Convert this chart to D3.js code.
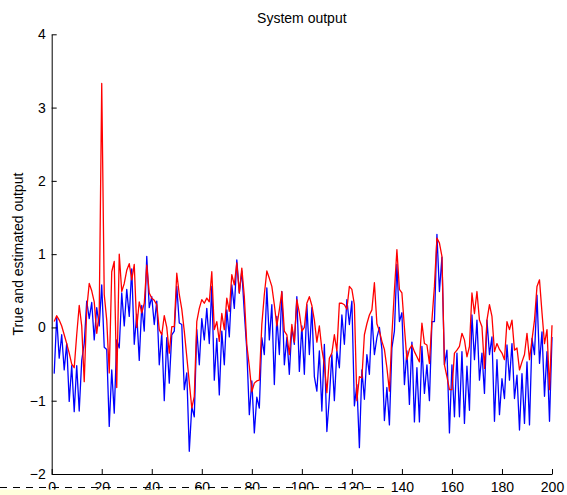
<!DOCTYPE html>
<html>
<head>
<meta charset="utf-8">
<script src="https://cdn.jsdelivr.net/npm/d3@7"></script>
<style>
  html, body { margin: 0; padding: 0; background: #fff; }
  svg { display: block; }
  text { font-family: "Liberation Sans", Arial, Helvetica, sans-serif; }
</style>
</head>
<body>
<svg id="chart" width="567" height="495"></svg>
<script>
const title = "System output";
const yLabel = "True and estimated output";
const xTicks = [0, 20, 40, 60, 80, 100, 120, 140, 160, 180, 200];
const yTicks = [-2, -1, 0, 1, 2, 3, 4];

// True output (blue), samples 1..200
const trueOutput = [
  -0.63, 0.14, -0.42, -0.10, -0.58, -0.22, -1.01, -0.52, -1.15, -0.52,
  -1.14, -0.45, -0.22, 0.36, 0.12, 0.34, -0.17, 0.27, 0.02, 0.58,
  -0.27, -0.30, -1.35, -0.58, -1.17, -0.17, -0.28, 0.47, 0.02, 0.52,
  0.15, 0.80, -0.23, 0.18, -0.45, 0.30, -0.05, 0.97, 0.27, 0.42,
  0.04, 0.36, -0.51, -0.08, -1.00, -0.14, -0.76, -0.10, -0.05, 0.56,
  0.06, 0.04, -0.85, -0.62, -1.69, -1.08, -1.22, -0.03, -0.51, 0.12,
  -0.17, 0.26, -0.22, 0.56, -0.72, -0.15, -0.92, -0.05, -0.51, 0.24,
  -0.13, 0.58, 0.26, 0.92, 0.47, 0.77, 0.20, -0.31, -1.19, -0.73,
  -1.44, -0.95, -1.10, -0.14, -0.37, 0.54, -0.17, 0.31, -0.78, 0.15,
  -0.37, 0.49, -0.51, -0.14, -0.64, 0.00, -0.23, 0.42, -0.60, 0.02,
  -0.64, 0.31, -0.37, 0.27, -0.67, -0.87, -0.32, -1.14, -0.23, -1.42,
  -0.96, -0.37, -1.00, -0.32, -0.55, 0.17, -0.23, 0.38, 0.04, 0.36,
  -1.07, -0.78, -1.64, -0.58, -0.98, -0.37, -0.64, 0.15, -0.37, -0.14,
  0.00, -0.30, -1.27, -0.82, -1.33, -0.28, -0.05, 0.86, 0.08, 0.20,
  -0.78, -0.32, -1.05, -0.20, -1.29, -0.55, -1.29, -0.26, -0.90, -0.51,
  -1.00, 0.08, 0.08, 1.27, 0.49, 0.96, -0.51, -0.31, -1.44, -0.51,
  -1.22, -0.35, -1.22, -0.33, -1.31, -0.53, -1.13, 0.17, -0.44, 0.10,
  -0.72, -0.35, -0.90, 0.10, -0.37, -0.13, -1.28, -0.44, -1.19, -0.70,
  -0.97, -0.24, -0.72, -0.22, -0.97, -0.65, -1.40, -0.63, -1.31, -0.47,
  -1.33, -0.15, -0.37, 0.44, -0.49, -0.06, -0.94, -0.33, -1.28, -0.13
];

// Estimated output (red), samples 1..200
const estOutput = [
  0.08, 0.16, 0.10, 0.02, -0.10, -0.22, -0.35, -0.50, -0.55, -0.10,
  0.30, 0.02, -0.74, 0.25, 0.60, 0.50, 0.35, -0.08, 0.19, 3.33,
  0.45, 0.10, -0.62, 0.76, 0.90, -0.82, 1.00, 0.49, 0.60, 0.78,
  0.87, 0.65, 0.86, 0.00, 0.35, 0.20, 0.33, 0.85, 0.47, 0.40,
  0.37, 0.31, -0.03, -0.10, 0.16, 0.00, -0.35, 0.01, 0.01, 0.74,
  0.45, 0.25, -0.05, -0.40, -0.75, -1.10, -0.94, 0.08, 0.26, 0.38,
  0.33, 0.40, 0.35, 0.76, -0.03, 0.08, -0.19, 0.19, -0.03, 0.40,
  0.22, 0.72, 0.58, 0.88, 0.47, 0.81, 0.42, -0.24, -0.53, -0.88,
  -0.76, -0.73, -0.72, 0.04, 0.45, 0.77, 0.67, 0.56, 0.31, 0.02,
  0.24, 0.49, -0.05, -0.10, -0.37, 0.04, -0.20, 0.38, 0.20, -0.05,
  0.00, 0.33, 0.42, 0.30, 0.10, -0.20, 0.02, -0.30, -0.50, -0.89,
  -0.42, -0.35, -0.10, -0.32, 0.33, 0.33, 0.31, 0.25, 0.56, 0.52,
  0.31, -1.00, -0.67, -0.69, -0.10, 0.05, 0.17, 0.24, 0.61, 0.05,
  -0.05, -0.19, -0.30, -0.55, -0.87, -0.10, 0.50, 1.06, 0.52, 0.47,
  0.00, -0.44, -0.30, -0.24, -0.33, -0.40, -0.47, 0.06, -0.22, -0.24,
  -0.49, 0.10, 0.56, 1.22, 1.15, 0.97, -0.51, -0.67, -0.85, -0.85,
  -0.35, -0.31, -0.26, -0.08, -0.17, -0.40, -0.26, 0.47, 0.19, 0.49,
  0.10, 0.01, -0.56, 0.10, 0.31, 0.15, -0.33, -0.22, -0.30, -0.35,
  -0.44, 0.08, -0.03, 0.10, -0.31, -0.28, -0.58, -0.47, -0.37, -0.08,
  -0.44, -0.17, 0.10, 0.56, 0.65, 0.20, -0.22, -0.03, -0.85, 0.03
];

const samples = d3.range(1, trueOutput.length + 1);

const svg = d3.select("#chart");
const W = 567, H = 495;
const mLeft = 51.7, mRight = 552, mTop = 34.3, mBottom = 474;

const x = d3.scaleLinear().domain([0, 200]).range([mLeft, mRight]);
const y = d3.scaleLinear().domain([-2, 4]).range([mBottom, mTop]);

svg.append("rect").attr("width", W).attr("height", H).attr("fill", "#fff");

const line = d3.line().x((d, i) => x(samples[i])).y(d => y(d));

svg.append("path").datum(trueOutput)
  .attr("fill", "none").attr("stroke", "#0000ff").attr("stroke-width", 1.3)
  .attr("stroke-linejoin", "round").attr("d", line);

svg.append("path").datum(estOutput)
  .attr("fill", "none").attr("stroke", "#ff0000").attr("stroke-width", 1.3)
  .attr("stroke-linejoin", "round").attr("d", line);

// Axes (MATLAB style, inward ticks)
const yAxis = svg.append("g").attr("transform", `translate(${mLeft},0)`)
  .call(d3.axisLeft(y).tickValues(yTicks).tickFormat(d3.format("d"))
    .tickSizeInner(-5).tickSizeOuter(0).tickPadding(6));
const xAxis = svg.append("g").attr("transform", `translate(0,${mBottom})`)
  .call(d3.axisBottom(x).tickValues(xTicks).tickFormat(d3.format("d"))
    .tickSizeInner(-5).tickSizeOuter(0).tickPadding(8));

[yAxis, xAxis].forEach(g => {
  g.selectAll("path.domain").attr("stroke", "#000").attr("stroke-width", 1);
  g.selectAll(".tick line").attr("stroke", "#000").attr("stroke-width", 1);
  g.selectAll(".tick text").attr("fill", "#000").style("font-size", "14px")
    .style("font-family", '"Liberation Sans", Arial, sans-serif');
});

// Title
svg.append("text").attr("x", (mLeft + mRight) / 2).attr("y", 23)
  .attr("text-anchor", "middle").style("font-size", "14px").attr("fill", "#000")
  .text(title);

// Y label
svg.append("text")
  .attr("transform", `translate(23,${(mTop + mBottom) / 2}) rotate(-90)`)
  .attr("text-anchor", "middle").style("font-size", "14px").attr("fill", "#000")
  .text(yLabel);

// Bottom overlay artefact (yellow strip with dashed line)
svg.append("rect").attr("x", 0).attr("y", 489.5).attr("width", 391).attr("height", 6)
  .attr("fill", "#ffffdc");
svg.append("line").attr("x1", 0).attr("x2", 388).attr("y1", 487.5).attr("y2", 487.5)
  .attr("stroke", "#000").attr("stroke-width", 1).attr("stroke-dasharray", "7,6");
</script>
</body>
</html>
